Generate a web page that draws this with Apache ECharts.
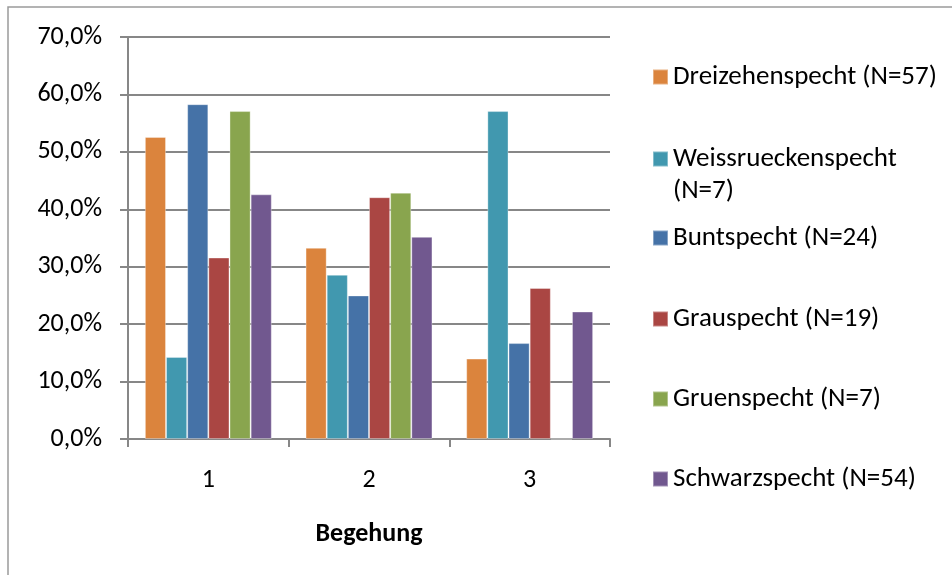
<!DOCTYPE html>
<html>
<head>
<meta charset="utf-8">
<script src="https://cdn.jsdelivr.net/npm/echarts@6/dist/echarts.min.js"></script>
<style>
  html, body { margin: 0; padding: 0; background: #fff; }
  #chart { width: 952px; height: 575px; }
</style>
</head>
<body>
<div id="chart"></div>
<script>
// Begehung (survey round) categories
var categories = ['1', '2', '3'];

// Share of detections per survey round, per woodpecker species (%)
var seriesNames = [
  'Dreizehenspecht (N=57)',
  'Weissrueckenspecht (N=7)',
  'Buntspecht (N=24)',
  'Grauspecht (N=19)',
  'Gruenspecht (N=7)',
  'Schwarzspecht (N=54)'
];
var dreizehenspecht    = [52.6, 33.3, 14.0];
var weissrueckenspecht = [14.3, 28.6, 57.1];
var buntspecht         = [58.3, 25.0, 16.7];
var grauspecht         = [31.6, 42.1, 26.3];
var gruenspecht        = [57.1, 42.9, 0.0];
var schwarzspecht      = [42.6, 35.2, 22.2];

// Y-axis ticks
var yTicks = [0, 10, 20, 30, 40, 50, 60, 70];

var seriesValues = [dreizehenspecht, weissrueckenspecht, buntspecht, grauspecht, gruenspecht, schwarzspecht];
var colors = ['#DB843D', '#4198AF', '#4572A7', '#AA4643', '#89A54E', '#71588F'];

var FONT = 'Carlito, Lato, sans-serif';
var FONT_SIZE = 26;
var LEGEND_FONT_SIZE = 27;
var AXIS_GRAY = '#878787';
var LINE_H = 32;
var WRAPPED = 'Weissrueckenspecht (N=7)';

var series = seriesNames.map(function (name, i) {
  return {
    name: name,
    type: 'bar',
    data: seriesValues[i],
    barGap: '0%',
    barCategoryGap: '21%',
    itemStyle: {
      color: colors[i],
      borderColor: 'rgba(255,255,255,0.35)',
      borderWidth: 1
    }
  };
});

// One legend block per species, stacked down the right side (icon centre y)
var legendCentres = [77, 159, 238, 319, 399, 479];
var legends = seriesNames.map(function (name, i) {
  var wrapped = name === WRAPPED;
  // wrapped entry: blank line above so the swatch sits beside the first text line
  var h = wrapped ? 3 * LINE_H : LINE_H;
  return {
    data: [name],
    left: 652,
    top: legendCentres[i] - h / 2,
    padding: 0,
    orient: 'vertical',
    icon: 'rect',
    itemWidth: 15,
    itemHeight: 15,
    selectedMode: false,
    formatter: function (n) {
      return n === WRAPPED ? '\nWeissrueckenspecht\n(N=7)' : n;
    },
    textStyle: {
      fontFamily: FONT,
      fontSize: LEGEND_FONT_SIZE,
      color: '#000',
      lineHeight: LINE_H
    }
  };
});

var chart = echarts.init(document.getElementById('chart'), null, { renderer: 'canvas' });
chart.setOption({
  animation: false,
  color: colors,
  graphic: [{
    type: 'rect',
    shape: { x: 8, y: 7, width: 960, height: 600 },
    style: { fill: 'none', stroke: '#9a9a9a', lineWidth: 1.5 },
    silent: true,
    z: -1
  }],
  grid: { left: 128, right: 342, top: 37, bottom: 136 },
  legend: legends,
  xAxis: {
    type: 'category',
    data: categories,
    name: 'Begehung',
    nameLocation: 'middle',
    nameGap: 82,
    nameTextStyle: { fontFamily: FONT, fontSize: FONT_SIZE, fontWeight: 'bold', color: '#000' },
    axisLine: { lineStyle: { color: AXIS_GRAY, width: 2 } },
    axisTick: { show: true, length: 8, inside: false, lineStyle: { color: AXIS_GRAY, width: 2 } },
    axisLabel: { fontFamily: FONT, fontSize: FONT_SIZE, color: '#000', margin: 28 },
    splitLine: { show: false }
  },
  yAxis: {
    type: 'value',
    min: 0,
    max: 70,
    interval: 10,
    axisLine: { show: true, lineStyle: { color: AXIS_GRAY, width: 2 } },
    axisTick: { show: true, length: 8, lineStyle: { color: AXIS_GRAY, width: 2 } },
    axisLabel: {
      fontFamily: FONT,
      fontSize: FONT_SIZE,
      color: '#000',
      margin: 26,
      formatter: function (v) {
        return yTicks.indexOf(v) >= 0 ? v.toFixed(1).replace('.', ',') + '%' : '';
      }
    },
    splitLine: { show: true, lineStyle: { color: AXIS_GRAY, width: 2 } }
  },
  series: series
});
</script>
</body>
</html>
